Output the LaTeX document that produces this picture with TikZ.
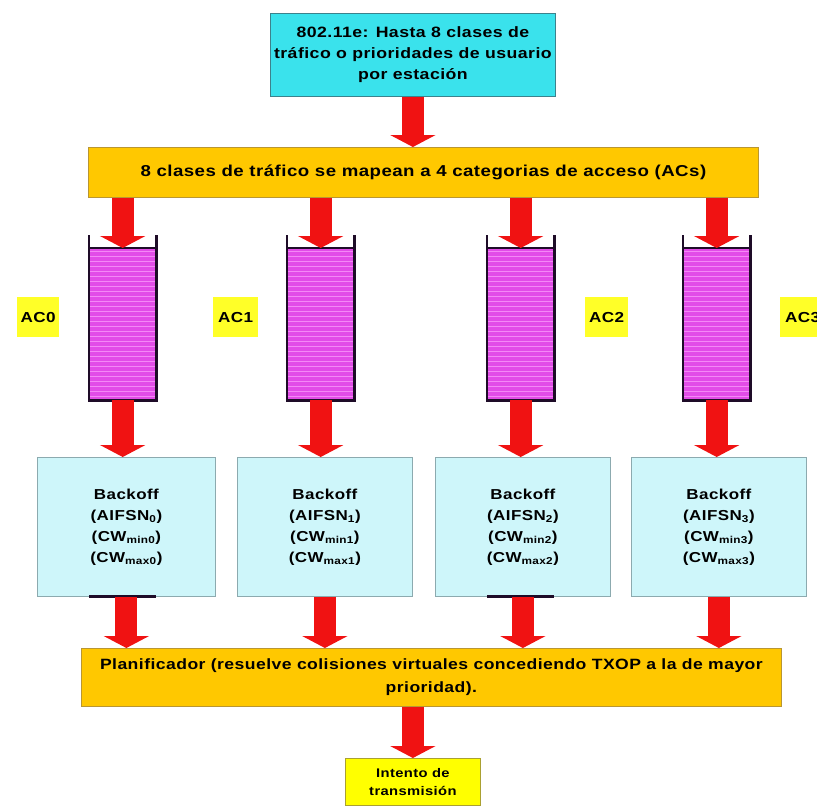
\documentclass[tikz,border=0pt]{standalone}
\usepackage{fontspec}
\setmainfont{Liberation Sans}[FakeStretch=1.18, LetterSpace=3]
\usetikzlibrary{arrows.meta}
\definecolor{topfill}{RGB}{58,226,236}
\definecolor{topborder}{RGB}{60,130,140}
\definecolor{barfill}{RGB}{255,200,0}
\definecolor{barborder}{RGB}{185,150,50}
\definecolor{qfill}{RGB}{226,76,232}
\definecolor{qstripe}{RGB}{244,136,246}
\definecolor{qwall}{RGB}{30,12,40}
\definecolor{acfill}{RGB}{255,255,40}
\definecolor{bofill}{RGB}{206,246,250}
\definecolor{boborder}{RGB}{140,170,175}
\definecolor{intfill}{RGB}{255,255,0}
\definecolor{intborder}{RGB}{170,160,50}
\definecolor{arrowred}{RGB}{240,18,18}
\begin{document}
\begin{tikzpicture}[x=1pt,y=-1pt,
  base/.style={anchor=north west, inner sep=0pt, align=center},
  topbox/.style={base, draw=topborder, fill=topfill, line width=0.8pt,
    minimum width=285pt, minimum height=83pt, font=\bfseries\fontsize{15}{21}\selectfont},
  barbox/.style={base, draw=barborder, fill=barfill, line width=0.8pt},
  queue/.style={base, fill=qfill, minimum width=67pt, minimum height=152pt},
  aclabel/.style={base, fill=acfill, minimum height=40pt, font=\bfseries\fontsize{14.5}{16}\selectfont},
  bobox/.style={base, draw=boborder, fill=bofill, line width=0.8pt,
    minimum height=139pt, font=\bfseries\fontsize{14.4}{21}\selectfont},
  intbox/.style={base, draw=intborder, fill=intfill, line width=0.8pt,
    minimum width=135pt, minimum height=47pt, font=\bfseries\fontsize{12.5}{18}\selectfont},
  bigarrow/.style={draw=arrowred, line width=22pt, -{Triangle[width=45pt,length=12pt]}},
  wall/.style={draw=qwall, line width=2.2pt},
  qbottom/.style={draw=qwall, line width=3pt}
]
\useasboundingbox (0,0) rectangle (817,806);
\fill[white] (0,0) rectangle (817,806);

% top box
\node[topbox] (top) at (270,13) {802.11e: Hasta 8 clases de\\tráfico o prioridades de usuario\\por estación};

% mapping bar
\node[barbox, minimum width=670pt, minimum height=50pt, font=\bfseries\fontsize{15.8}{20}\selectfont] (bar) at (88,147)
  {8 clases de tráfico se mapean a 4 categorias de acceso (ACs)};

% queues
\foreach \x/\n in {89/0,287/1,487/2,683/3}{
  \node[queue] (q\n) at (\x,248) {};
  \foreach \yy in {251,256,...,396}
    \draw[qstripe, line width=0.9pt] ({\x+1},\yy) -- ({\x+66},\yy);
  \draw[wall] ([yshift=13pt]q\n.north west) -- (q\n.south west) -- (q\n.south east) -- ([yshift=13pt]q\n.north east);
  \draw[draw=qwall, line width=1.6pt] (q\n.north west) -- (q\n.north east);
}

% AC labels
\node[aclabel, minimum width=42pt] (ac0) at (17,297) {AC0};
\node[aclabel, minimum width=45pt] (ac1) at (213,297) {AC1};
\node[aclabel, minimum width=43pt] (ac2) at (585,297) {AC2};
\node[aclabel, minimum width=45pt] (ac3) at (780,297) {AC3};

% backoff boxes
\node[bobox, minimum width=178pt] (b0) at (37,457) {Backoff\\(AIFSN\textsubscript{0})\\(CW\textsubscript{min0})\\(CW\textsubscript{max0})};
\node[bobox, minimum width=175pt] (b1) at (237,457) {Backoff\\(AIFSN\textsubscript{1})\\(CW\textsubscript{min1})\\(CW\textsubscript{max1})};
\node[bobox, minimum width=175pt] (b2) at (435,457) {Backoff\\(AIFSN\textsubscript{2})\\(CW\textsubscript{min2})\\(CW\textsubscript{max2})};
\node[bobox, minimum width=175pt] (b3) at (631,457) {Backoff\\(AIFSN\textsubscript{3})\\(CW\textsubscript{min3})\\(CW\textsubscript{max3})};

\draw[qbottom] (b0.south -| q0.west) -- (b0.south -| q0.east);
\draw[qbottom] (b2.south -| q2.west) -- (b2.south -| q2.east);

% scheduler
\node[barbox, minimum width=700pt, minimum height=58pt, font=\bfseries\fontsize{14.9}{23}\selectfont] (plan) at (81,648)
  {Planificador (resuelve colisiones virtuales concediendo TXOP a la de mayor\\prioridad).};

% transmission attempt
\node[intbox] (tx) at (345,758) {Intento de\\transmisión};

% arrows
\draw[bigarrow] (top.south) -- (bar.north -| top.south);
\foreach \n in {0,1,2,3}{
  \draw[bigarrow] (bar.south -| q\n.north) -- (q\n.north);
  \draw[bigarrow] (q\n.south) -- (b\n.north -| q\n.south);
  \draw[bigarrow] (b\n.south) -- (plan.north -| b\n.south);
}
\draw[bigarrow] (plan.south -| tx.north) -- (tx.north);
\end{tikzpicture}
\end{document}
